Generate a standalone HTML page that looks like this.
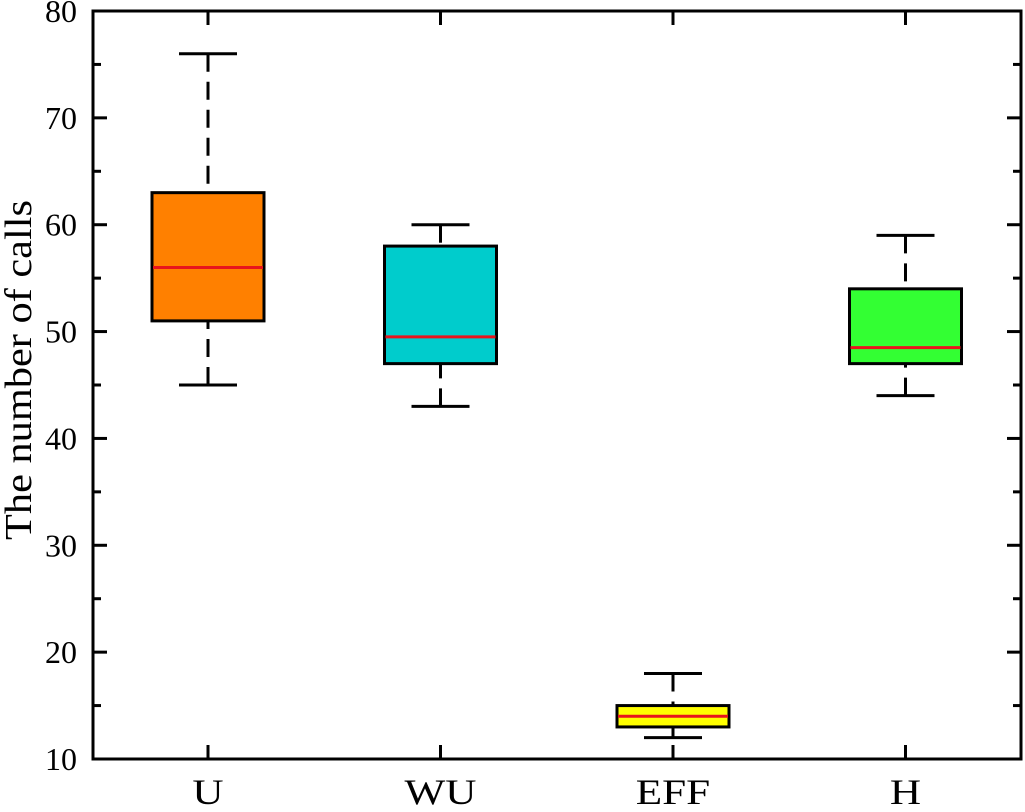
<!DOCTYPE html>
<html><head><meta charset="utf-8"><style>
body{margin:0;background:#fff}
svg text{font-family:"Liberation Serif",serif;fill:#000}
</style></head><body>
<svg id="c" width="1025" height="807" xmlns="http://www.w3.org/2000/svg"></svg>
<script>
const categories=["U","WU","EFF","H"];
const mins=[45,43,12,44];
const q1s=[51,47,13,47];
const medians=[56,49.5,14,48.5];
const q3s=[63,58,15,54];
const maxs=[76,60,18,59];
const colors=["#ff8000","#00cccc","#ffff00","#33ff33"];
const yTicks=[10,20,30,40,50,60,70,80];
const L=93,R=1021,T=11,B=759,yMin=10,yMax=80;
const y=v=>B-(v-yMin)/(yMax-yMin)*(B-T);
const x=i=>208+i*232.5;
const svg=document.getElementById('c');
const NS="http://www.w3.org/2000/svg";
function mk(t,a,p){const e=document.createElementNS(NS,t);for(const k in a)e.setAttribute(k,a[k]);(p||svg).appendChild(e);return e;}
for(let v=10;v<=80;v+=5){
  const major=v%10===0,len=major?14:8;
  const t1=mk('line',{x1:L,x2:L+len,y1:y(v),y2:y(v),stroke:'#000','stroke-width':3});
  
  
  const t2=mk('line',{x1:R,x2:R-len,y1:y(v),y2:y(v),stroke:'#000','stroke-width':3});
  
  
}
yTicks.forEach(v=>{
  const t=mk('text',{x:L-16,y:y(v)+11,'text-anchor':'end','font-size':32,textLength:32,lengthAdjust:'spacingAndGlyphs'});
  t.textContent=v;
  
  
});
categories.forEach((c,i)=>{
  const cx=x(i);
  const tb=mk('line',{x1:cx,x2:cx,y1:B,y2:B-14,stroke:'#000','stroke-width':3});
  
  
  const tt=mk('line',{x1:cx,x2:cx,y1:T,y2:T+14,stroke:'#000','stroke-width':3});
  
  
  const lb=mk('text',{x:cx,y:804,'text-anchor':'middle','font-size':36,transform:`translate(${cx},0) scale(1.2,1) translate(${-cx},0)`});
  lb.textContent=c;
  
  
  const g=mk('g',{});
  
  
  mk('line',{x1:cx,x2:cx,y1:y(maxs[i]),y2:y(q3s[i]),stroke:'#000','stroke-width':3,'stroke-dasharray':'18,10'},g);
  mk('line',{x1:cx,x2:cx,y1:y(mins[i]),y2:y(q1s[i]),stroke:'#000','stroke-width':3,'stroke-dasharray':'18,10'},g);
  mk('line',{x1:cx-29,x2:cx+29,y1:y(maxs[i]),y2:y(maxs[i]),stroke:'#000','stroke-width':3},g);
  mk('line',{x1:cx-29,x2:cx+29,y1:y(mins[i]),y2:y(mins[i]),stroke:'#000','stroke-width':3},g);
  mk('rect',{x:cx-56,y:y(q3s[i]),width:112,height:y(q1s[i])-y(q3s[i]),fill:colors[i],stroke:'#000','stroke-width':3},g);
  mk('line',{x1:cx-55,x2:cx+55,y1:y(medians[i]),y2:y(medians[i]),stroke:'#e8141c','stroke-width':3},g);
});
const f=mk('rect',{x:L,y:T,width:R-L,height:B-T,fill:'none',stroke:'#000','stroke-width':3});


const yt=mk('text',{x:0,y:0,'text-anchor':'middle','font-size':38,textLength:340,lengthAdjust:'spacingAndGlyphs',transform:'translate(31,370) rotate(-90)'});
yt.textContent='The number of calls';


</script>
</body></html>
